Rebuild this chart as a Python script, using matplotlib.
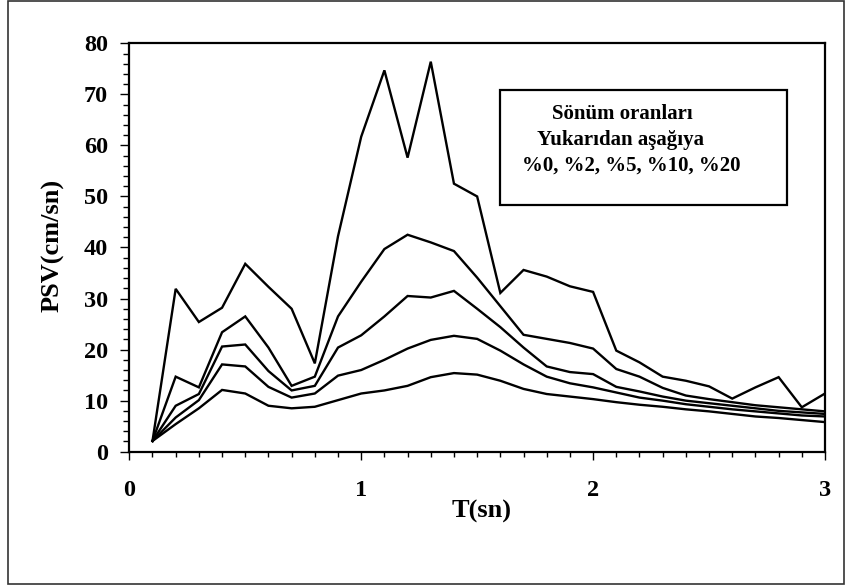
import matplotlib
matplotlib.use('Agg')
from matplotlib import pyplot as plt
from matplotlib.patches import Rectangle
from matplotlib.ticker import MultipleLocator

periods = [0.1, 0.2, 0.3, 0.4, 0.5, 0.6, 0.7, 0.8, 0.9, 1.0,
           1.1, 1.2, 1.3, 1.4, 1.5, 1.6, 1.7, 1.8, 1.9, 2.0,
           2.1, 2.2, 2.3, 2.4, 2.5, 2.6, 2.7, 2.8, 2.9, 3.0]

# PSV (cm/sn), damping ratios %0, %2, %5, %10, %20
psv_0 = [2.1, 31.9, 25.4, 28.2, 36.8, 32.3, 28.0, 17.3, 42.2, 61.7,
         74.7, 57.6, 76.4, 52.5, 50.0, 31.1, 35.6, 34.3, 32.4, 31.3,
         19.8, 17.5, 14.7, 13.9, 12.8, 10.4, 12.6, 14.6, 8.7, 11.4]
psv_2 = [2.1, 14.7, 12.6, 23.4, 26.5, 20.4, 12.9, 14.7, 26.5, 33.3,
         39.7, 42.5, 41.0, 39.3, 34.1, 28.5, 22.9, 22.1, 21.3, 20.2,
         16.2, 14.7, 12.5, 11.0, 10.3, 9.7, 9.1, 8.7, 8.3, 7.9]
psv_5 = [2.1, 9.0, 11.3, 20.6, 21.0, 15.8, 12.0, 12.9, 20.4, 22.8,
         26.5, 30.5, 30.2, 31.5, 28.0, 24.4, 20.4, 16.7, 15.6, 15.2,
         12.7, 11.8, 10.8, 10.0, 9.5, 9.0, 8.5, 8.0, 7.7, 7.4]
psv_10 = [2.1, 6.7, 10.1, 17.1, 16.7, 12.7, 10.6, 11.4, 14.9, 16.0,
          18.0, 20.2, 21.9, 22.7, 22.1, 19.8, 17.1, 14.7, 13.4, 12.6,
          11.6, 10.6, 10.0, 9.3, 8.8, 8.3, 7.9, 7.5, 7.1, 6.9]
psv_20 = [2.1, 5.4, 8.5, 12.1, 11.4, 9.0, 8.5, 8.8, 10.1, 11.4,
          12.0, 12.9, 14.6, 15.4, 15.1, 13.9, 12.3, 11.3, 10.8, 10.3,
          9.7, 9.2, 8.8, 8.3, 7.9, 7.4, 6.9, 6.6, 6.2, 5.8]

legend_lines = ['Sönüm oranları', 'Yukarıdan aşağıya', '%0, %2, %5, %10, %20']

plt.rcParams['font.family'] = ['Liberation Serif', 'DejaVu Serif']
plt.rcParams['font.weight'] = 'bold'

W, H = 846, 586
fig = plt.figure(figsize=(W / 100, H / 100), dpi=100)

# axes box in pixels: left 129, right 825, top 43, bottom 452
ax = fig.add_axes([129.3 / W, 1 - 451.7 / H, (825 - 129.3) / W, (451.7 - 43.3) / H])

for s in [psv_0, psv_2, psv_5, psv_10, psv_20]:
    ax.plot(periods, s, color='black', lw=1.7, solid_joinstyle='miter')

ax.set_xlim(0, 3)
ax.set_ylim(0, 80)
ax.xaxis.set_major_locator(MultipleLocator(1))
ax.xaxis.set_minor_locator(MultipleLocator(0.1))
ax.yaxis.set_major_locator(MultipleLocator(10))
ax.yaxis.set_minor_locator(MultipleLocator(2))

ax.tick_params(axis='x', which='major', direction='out', length=5.5, width=1, pad=15, labelsize=17.5)
ax.tick_params(axis='x', which='minor', direction='out', length=3.5, width=1)
ax.tick_params(axis='y', which='major', direction='out', length=6.5, width=1, pad=9, labelsize=17.5)
ax.tick_params(axis='y', which='minor', direction='out', length=4.5, width=1)
for lab in ax.get_xticklabels() + ax.get_yticklabels():
    lab.set_fontweight('bold')

for sp in ax.spines.values():
    sp.set_linewidth(1.6)

ax.set_xlabel('T(sn)', fontsize=19, fontweight='bold', va='center')
ax.xaxis.set_label_coords((482 - 129.3) / 695.7, (451.7 - 511) / 408.4)
ax.set_ylabel('PSV(cm/sn)', fontsize=19, fontweight='bold', va='center')
ax.yaxis.set_label_coords((53.3 - 129.3) / 695.7, (451.7 - 245.5) / 408.4)

# legend box
fig.patches.append(Rectangle((500 / W, 1 - 205 / H), 287 / W, 115 / H,
                             transform=fig.transFigure, fill=True, facecolor='white',
                             edgecolor='black', lw=1.6, zorder=5))
text_x = [551.7, 536.7, 521.7]
text_y = [119, 145, 171]
for t, x, y in zip(legend_lines, text_x, text_y):
    fig.text(x / W, 1 - y / H, t, ha='left', va='baseline', fontsize=15,
             fontweight='bold', zorder=6)

# outer frame
fig.patches.append(Rectangle((8.3 / W, 1 - 584 / H), (844 - 8.3) / W, (584 - 1.2) / H,
                             transform=fig.transFigure, fill=False,
                             edgecolor='#333333', lw=1.2))

fig.savefig('out.png', dpi=100)
